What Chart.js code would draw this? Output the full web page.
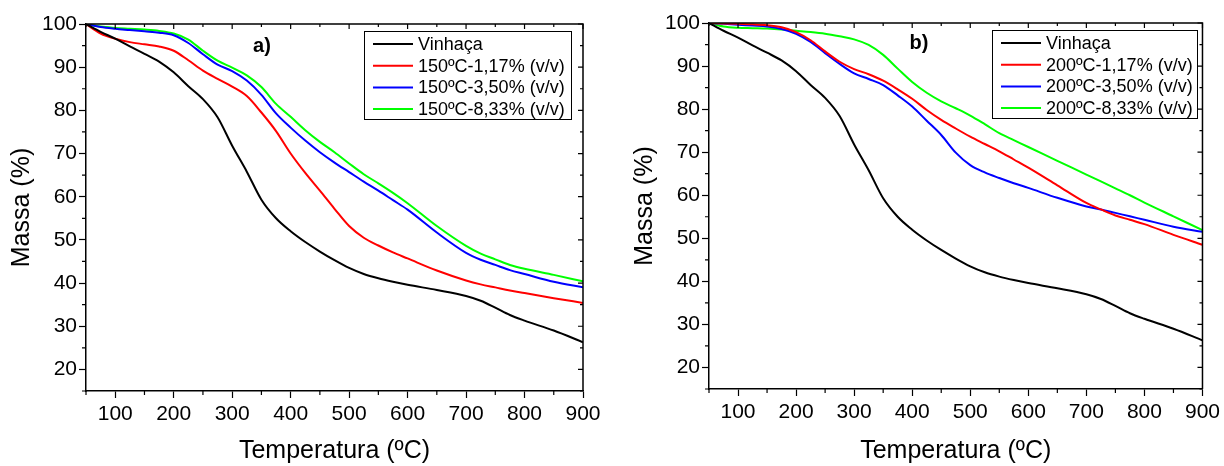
<!DOCTYPE html>
<html>
<head>
<meta charset="utf-8">
<script src="https://cdn.jsdelivr.net/npm/chart.js@4.4.1/dist/chart.umd.min.js"></script>
<style>
  body { margin: 0; background: #fff; }
  #wrap { position: relative; width: 1224px; height: 466px; }
  canvas { position: absolute; top: 0; }
</style>
</head>
<body>
<div id="wrap">
  <canvas id="chartA" width="612" height="466" style="left:0"></canvas>
  <canvas id="chartB" width="612" height="466" style="left:612px"></canvas>
</div>
<script>
// temperatures (ºC) shared by every curve
const temps = [50, 75, 100, 125, 150, 175, 200, 225, 250, 275, 300, 325, 350, 375, 400, 425,
               450, 475, 500, 525, 550, 575, 600, 650, 700, 725, 750, 775, 800, 850, 900];

// mass (%)
const vinhaca = [100, 98.2, 96.6, 94.8, 93.1, 91.3, 88.8, 85.6, 82.6, 78.4, 71.8, 65.8, 59.3, 55.0, 52.0, 49.5,
                 47.3, 45.3, 43.5, 42.1, 41.1, 40.3, 39.6, 38.4, 37.0, 35.9, 34.3, 32.6, 31.3, 29.0, 26.3];

const a117 = [100, 97.8, 96.6, 95.8, 95.3, 94.8, 93.8, 91.6, 89.2, 87.3, 85.5, 83.3, 79.5, 75.2, 70.0, 65.5,
              61.4, 57.2, 53.2, 50.5, 48.7, 47.1, 45.7, 42.9, 40.6, 39.7, 39.0, 38.3, 37.7, 36.5, 35.4];
const a350 = [100, 99.3, 98.9, 98.6, 98.3, 98.0, 97.4, 95.6, 93.0, 90.6, 89.1, 86.9, 83.6, 79.3, 76.0, 73.0,
              70.3, 67.9, 65.7, 63.5, 61.4, 59.2, 57.0, 51.7, 47.0, 45.4, 44.2, 43.0, 42.1, 40.3, 39.0];
const a833 = [100, 99.4, 99.1, 98.9, 98.7, 98.4, 97.8, 96.4, 93.8, 91.5, 89.9, 88.1, 85.4, 81.5, 78.5, 75.4,
              72.7, 70.3, 67.7, 65.2, 63.1, 60.9, 58.5, 53.2, 48.6, 46.8, 45.5, 44.2, 43.3, 41.9, 40.4];

const b117 = [100, 99.9, 99.8, 99.7, 99.5, 99.0, 97.9, 96.0, 93.4, 91.0, 89.3, 88.1, 86.6, 84.6, 82.4, 79.8,
              77.5, 75.5, 73.6, 71.9, 70.2, 68.3, 66.4, 62.3, 58.2, 56.7, 55.3, 54.3, 53.3, 50.8, 48.5];
const b350 = [100, 99.8, 99.6, 99.4, 99.2, 98.6, 97.5, 95.6, 93.0, 90.5, 88.3, 87.0, 85.6, 83.2, 80.6, 77.3,
              74.0, 69.9, 67.0, 65.3, 64.0, 62.8, 61.7, 59.4, 57.4, 56.7, 55.9, 55.1, 54.3, 52.7, 51.5];
const b833 = [100, 99.2, 98.9, 98.8, 98.7, 98.5, 98.2, 97.9, 97.5, 96.9, 96.2, 94.9, 92.6, 89.4, 86.3, 83.8,
              81.8, 80.2, 78.5, 76.5, 74.4, 72.8, 71.2, 68.0, 64.8, 63.2, 61.6, 60.0, 58.3, 55.1, 51.9];

const labelsA = ['Vinhaça', '150ºC-1,17% (v/v)', '150ºC-3,50% (v/v)', '150ºC-8,33% (v/v)'];
const labelsB = ['Vinhaça', '200ºC-1,17% (v/v)', '200ºC-3,50% (v/v)', '200ºC-8,33% (v/v)'];
const colors = ['#000000', '#ff0000', '#0000ff', '#00ff00'];

const xTicks = [100, 200, 300, 400, 500, 600, 700, 800, 900];
const yTicks = [20, 30, 40, 50, 60, 70, 80, 90, 100];

const FONT = 'Liberation Sans, Arial, sans-serif';

const framePlugin = {
    id: 'frame',
    afterDraw: function(chart) {
        var ctx = chart.ctx,
            area = chart.chartArea,
            x = chart.scales.x,
            y = chart.scales.y,
            opt = chart.options.plugins.frame;

        ctx.save();
        ctx.strokeStyle = '#000';
        ctx.lineWidth = 1.5;

        // top and right border
        ctx.beginPath();
        ctx.moveTo(area.left, area.top);
        ctx.lineTo(area.right, area.top);
        ctx.lineTo(area.right, area.bottom);
        ctx.stroke();

        ctx.lineWidth = 1.2;
        ctx.beginPath();
        for (var t = 50; t <= 900; t += 50) {
            var px = x.getPixelForValue(t);
            var major = t % 100 === 0;
            // minor ticks outside bottom
            if (!major) {
                ctx.moveTo(px, area.bottom);
                ctx.lineTo(px, area.bottom + 4);
            }
            // inner ticks on top
            ctx.moveTo(px, area.top);
            ctx.lineTo(px, area.top + (major ? 5 : 3));
        }
        for (var m = 15; m <= 100; m += 5) {
            var py = y.getPixelForValue(m);
            var majorY = m % 10 === 0;
            if (!majorY) {
                ctx.moveTo(area.left, py);
                ctx.lineTo(area.left - 4, py);
            }
            ctx.moveTo(area.right, py);
            ctx.lineTo(area.right - (majorY ? 5 : 3), py);
        }
        ctx.stroke();

        // legend box
        var lg = opt.legend;
        ctx.lineWidth = 1;
        ctx.strokeRect(lg.x + 0.5, lg.y + 0.5, lg.w, lg.h);
        ctx.font = '18px ' + FONT;
        ctx.textBaseline = 'middle';
        ctx.fillStyle = '#000';
        opt.labels.forEach(function(txt, i) {
            var ly = lg.y + 13 + i * 21.7;
            ctx.strokeStyle = colors[i];
            ctx.lineWidth = 2;
            ctx.beginPath();
            ctx.moveTo(lg.x + 9, ly);
            ctx.lineTo(lg.x + 49, ly);
            ctx.stroke();
            ctx.fillText(txt, lg.x + 54, ly + 1);
        });

        // panel letter
        ctx.font = 'bold 20px ' + FONT;
        ctx.textAlign = 'center';
        ctx.fillText(opt.tag.text, opt.tag.x, opt.tag.y);
        ctx.restore();
    }
};

function makePanel(id, labels, values, geo) {
    var datasets = values.map(function(v, i) {
        return {
            label: labels[i],
            data: temps.map(function(t, k) { return {x: t, y: v[k]}; }),
            borderColor: colors[i],
            backgroundColor: colors[i],
            borderWidth: 2,
            pointRadius: 0,
            order: i,
            cubicInterpolationMode: 'monotone'
        };
    });

    return new Chart(document.getElementById(id), {
        type: 'line',
        data: { datasets: datasets },
        options: {
            responsive: false,
            animation: false,
            layout: { padding: { left: 0, top: geo.top, right: geo.right, bottom: 0 } },
            plugins: {
                legend: { display: false },
                tooltip: { enabled: false },
                frame: { legend: geo.legend, tag: geo.tag, labels: labels }
            },
            scales: {
                x: {
                    type: 'linear',
                    min: 50,
                    max: 900,
                    afterBuildTicks: function(s) { s.ticks = xTicks.map(function(v) { return {value: v}; }); },
                    afterFit: function(s) { s.height = geo.xHeight; },
                    border: { color: '#000', width: 1.5 },
                    grid: { drawOnChartArea: false, tickLength: 7, tickColor: '#000', tickWidth: 1.2 },
                    ticks: { color: '#000', font: { family: FONT, size: 21 }, padding: 4, maxRotation: 0 },
                    title: { display: true, text: 'Temperatura (ºC)', color: '#000',
                             font: { family: FONT, size: 25 }, padding: { top: 0, bottom: 0 } }
                },
                y: {
                    min: 15,
                    max: 100,
                    afterBuildTicks: function(s) { s.ticks = yTicks.map(function(v) { return {value: v}; }); },
                    afterFit: function(s) { s.width = geo.yWidth; },
                    border: { color: '#000', width: 1.5 },
                    grid: { drawOnChartArea: false, tickLength: 7, tickColor: '#000', tickWidth: 1.2 },
                    ticks: { color: '#000', font: { family: FONT, size: 21 }, padding: 2 },
                    title: { display: true, text: 'Massa (%)', color: '#000',
                             font: { family: FONT, size: 25 }, padding: { top: geo.yTitlePad, bottom: 0 } }
                }
            }
        },
        plugins: [framePlugin]
    });
}

makePanel('chartA', labelsA, [vinhaca, a117, a350, a833], {
    top: 24, right: 29, xHeight: 75, yWidth: 86, yTitlePad: 7,
    legend: { x: 364, y: 31, w: 207, h: 88 },
    tag: { text: 'a)', x: 262, y: 46 }
});

makePanel('chartB', labelsB, [vinhaca, b117, b350, b833], {
    top: 23, right: 20, xHeight: 77, yWidth: 97, yTitlePad: 18,
    legend: { x: 380, y: 30, w: 205, h: 88 },
    tag: { text: 'b)', x: 307, y: 43 }
});
</script>
</body>
</html>
